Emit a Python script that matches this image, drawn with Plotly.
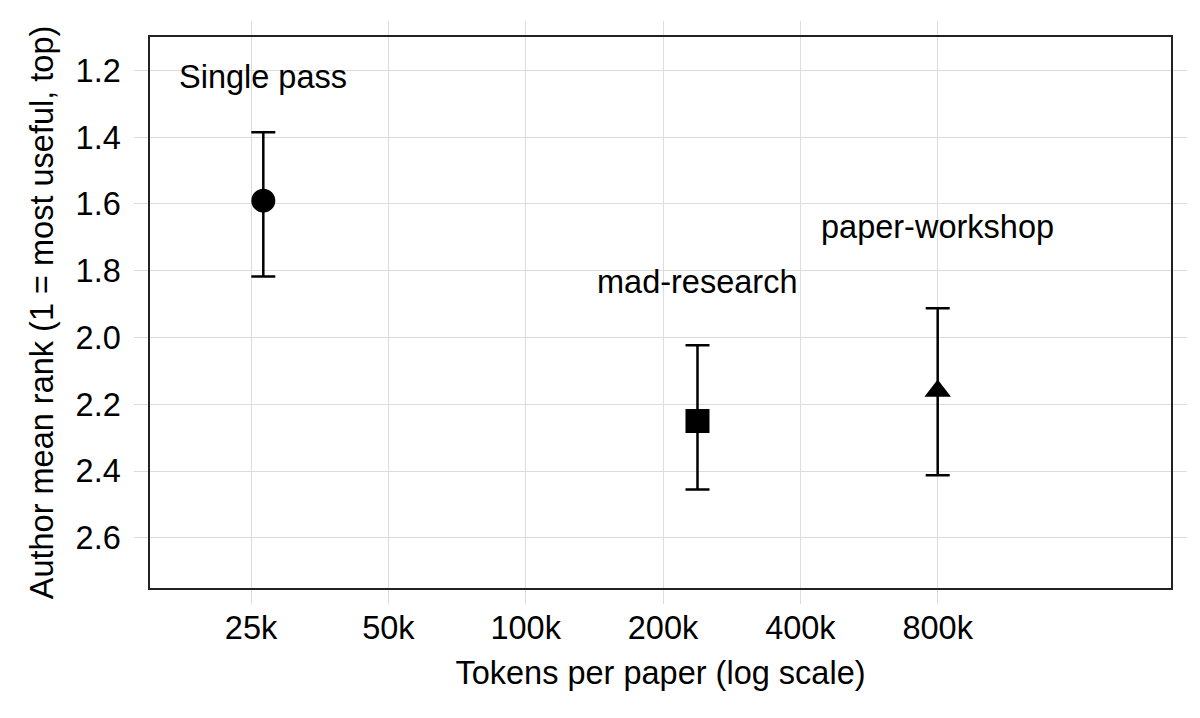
import math
import plotly.graph_objects as go

# pipelines, tokens per paper and author mean rank (lower = more useful)
systems = ["Single pass", "mad-research", "paper-workshop"]
tokens = [26600, 238000, 800000]
mean_rank = [1.59, 2.25, 2.16]
err_minus = [0.205, 0.227, 0.248]
err_plus = [0.227, 0.205, 0.252]
symbols = ["circle", "square", "triangle-up"]
marker_sizes = [24, 24, 23]

label_y = [1.22, 1.835, 1.67]

tick_vals = [25000, 50000, 100000, 200000, 400000, 800000]
tick_text = ["25k", "50k", "100k", "200k", "400k", "800k"]

FONT = "Liberation Sans, Arial, Helvetica, sans-serif"
FS = 32.5
GRID = "#dcdcdc"

fig = go.Figure()

for i, name in enumerate(systems):
    fig.add_trace(go.Scatter(
        x=[tokens[i]],
        y=[mean_rank[i]],
        mode="markers",
        name=name,
        marker=dict(symbol=symbols[i], size=marker_sizes[i], color="black"),
        error_y=dict(
            type="data",
            symmetric=False,
            array=[err_plus[i]],
            arrayminus=[err_minus[i]],
            color="black",
            thickness=2.5,
            width=12,
        ),
        showlegend=False,
    ))
    # annotation x on a log axis is given in log10 units
    fig.add_annotation(
        x=math.log10(tokens[i]), y=label_y[i], xref="x", yref="y",
        text=name, showarrow=False,
        xanchor="center", yanchor="middle",
        font=dict(size=FS, color="black", family=FONT),
    )

fig.update_layout(
    width=1200,
    height=718,
    margin=dict(l=142, r=37, t=29, b=138),
    paper_bgcolor="white",
    plot_bgcolor="white",
    font=dict(family=FONT, size=FS, color="black"),
)

fig.update_xaxes(
    type="log",
    range=[4.1765, 6.4145],
    tickvals=tick_vals,
    ticktext=tick_text,
    showgrid=True, gridcolor=GRID, gridwidth=1,
    ticks="outside", ticklen=14, tickcolor=GRID, tickwidth=1,
    ticklabelstandoff=-4,
    showline=True, linecolor="#222222", linewidth=1.5, mirror="ticks",
    zeroline=False,
    title=dict(text="Tokens per paper (log scale)", font=dict(size=FS), standoff=16),
)

fig.update_yaxes(
    range=[2.75, 1.1],
    tickvals=[1.2, 1.4, 1.6, 1.8, 2.0, 2.2, 2.4, 2.6],
    tickformat=".1f",
    showgrid=True, gridcolor=GRID, gridwidth=1,
    ticks="outside", ticklen=14, tickcolor=GRID, tickwidth=1,
    ticklabelstandoff=7,
    showline=True, linecolor="#222222", linewidth=1.5, mirror="ticks",
    zeroline=False,
    title=dict(text="Author mean rank (1 = most useful, top)", font=dict(size=FS), standoff=12),
)

fig.write_html("out.html")
